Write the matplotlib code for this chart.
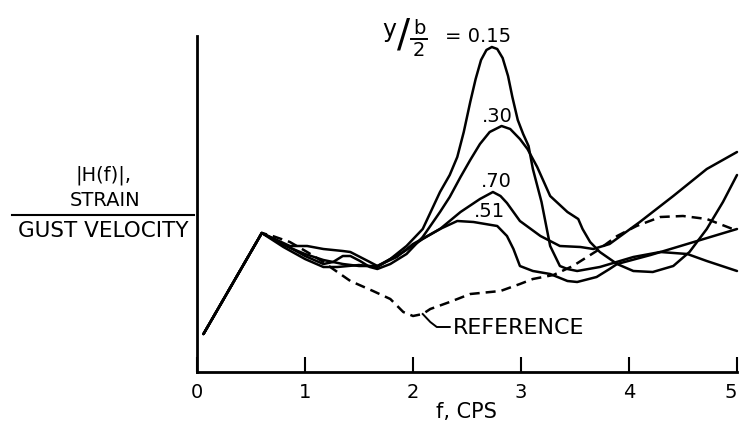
import matplotlib
matplotlib.use("Agg")
import matplotlib.pyplot as plt
from matplotlib.lines import Line2D

# frequency f (cps) and |H(f)| (arbitrary units)
ref_f = [0.06, 0.60, 0.70, 0.86, 1.02, 1.17, 1.26, 1.42, 1.63, 1.79, 1.91, 2.00, 2.09,
         2.16, 2.34, 2.53, 2.81, 2.99, 3.11, 3.30, 3.48, 3.70, 3.89, 4.07, 4.29, 4.50,
         4.72, 4.96]
ref_y = [38, 139, 136, 130, 120, 110, 103, 91, 81, 73, 60, 56, 58,
         63, 70, 78, 81, 88, 93, 97, 106, 121, 136, 146, 155, 156,
         153, 143]

s15_f = [0.06, 0.60, 0.80, 1.00, 1.17, 1.30, 1.50, 1.67, 1.79, 1.94, 2.09, 2.25, 2.34,
         2.41, 2.47, 2.53, 2.58, 2.63, 2.68, 2.73, 2.78, 2.83, 2.88, 2.92, 2.97, 3.02,
         3.07, 3.11, 3.19, 3.27, 3.36, 3.43, 3.52, 3.73, 4.04, 4.29, 4.54, 4.72, 5.00]
s15_y = [38, 139, 125, 113, 105, 105, 107, 105, 113, 126, 143, 180, 197,
         215, 240, 270, 293, 312, 322, 325, 323, 314, 296, 275, 252, 238,
         226, 203, 170, 126, 106, 103, 101, 105, 115, 120, 118, 111, 101]

s30_f = [0.06, 0.60, 0.80, 1.00, 1.17, 1.26, 1.35, 1.42, 1.51, 1.60, 1.67, 1.79, 1.94,
         2.09, 2.25, 2.34, 2.44, 2.53, 2.62, 2.71, 2.82, 2.90, 2.99, 3.06, 3.15, 3.27,
         3.43, 3.53, 3.57, 3.64, 3.73, 3.89, 4.04, 4.22, 4.41, 4.56, 4.72, 4.87, 5.00]
s30_y = [38, 139, 128, 116, 108, 110, 116, 116, 111, 105, 103, 108, 118,
         135, 160, 175, 195, 212, 228, 240, 246, 243, 233, 223, 205, 176,
         160, 153, 143, 130, 120, 108, 101, 100, 106, 120, 143, 170, 197]

s70_f = [0.06, 0.60, 0.80, 1.00, 1.17, 1.35, 1.50, 1.67, 1.85, 2.00, 2.25, 2.44, 2.62,
         2.74, 2.81, 2.87, 2.99, 3.18, 3.36, 3.55, 3.67, 3.82, 4.10, 4.41, 4.72, 5.00]
s70_y = [38, 139, 127, 118, 112, 108, 106, 106, 115, 128, 143, 160, 173,
         180, 176, 169, 151, 136, 126, 125, 123, 128, 150, 176, 203, 220]

s51_f = [0.06, 0.60, 0.86, 1.02, 1.17, 1.35, 1.42, 1.51, 1.60, 1.67, 1.91, 2.09, 2.25,
         2.41, 2.56, 2.78, 2.87, 2.93, 2.99, 3.11, 3.27, 3.43, 3.52, 3.70, 3.82, 3.89,
         4.20, 4.60, 5.00]
s51_y = [38, 139, 126, 126, 123, 121, 120, 115, 110, 106, 120, 133, 143,
         151, 150, 146, 136, 123, 106, 101, 98, 91, 90, 95, 103, 108,
         117, 130, 143]

xticks = [0, 1, 2, 3, 4, 5]
xticklabels = ["0", "1", "2", "3", "4", "5"]

W, H = 740, 427
fig = plt.figure(figsize=(W / 100, H / 100), dpi=100)
ax = fig.add_axes([197 / W, 1 - 373 / H, 540 / W, 336 / H])

lw = 1.8
for xs, ys in [(s15_f, s15_y), (s30_f, s30_y), (s70_f, s70_y), (s51_f, s51_y)]:
    ax.plot(xs, ys, color="black", lw=lw, clip_on=False, solid_capstyle="round")
ax.plot(ref_f, ref_y, color="black", lw=lw, ls=(0, (4, 2.4)), clip_on=False)

ax.set_xlim(0, 5)
ax.set_ylim(0, 336)
ax.spines["top"].set_visible(False)
ax.spines["right"].set_visible(False)
ax.spines["left"].set_linewidth(2)
ax.spines["bottom"].set_linewidth(2)
ax.set_yticks([])
ax.set_xticks(xticks)
ax.set_xticklabels(xticklabels, fontsize=14)
ax.get_xticklabels()[-1].set_ha("right")
ax.tick_params(axis="x", direction="in", length=11, width=1.5, pad=7)

# curve labels
ax.text(2.78, 257, ".30", fontsize=14, ha="center", va="center")
ax.text(2.77, 191, ".70", fontsize=14, ha="center", va="center")
ax.text(2.71, 161, ".51", fontsize=14, ha="center", va="center")

# reference leader
ax.plot([2.09, 2.16, 2.22, 2.34], [58, 50, 45, 45], color="black", lw=1.4, clip_on=False)
ax.text(2.37, 45, "REFERENCE", fontsize=16, ha="left", va="center")

def ftext(x, y, s, **kw):
    fig.text(x / W, 1 - y / H, s, **kw)

# y/(b/2) = 0.15
ftext(389, 30, "y", fontsize=17, ha="center", va="center")
ftext(404, 36, "/", fontsize=28, ha="center", va="center")
ftext(419, 28, "b", fontsize=14, ha="center", va="center")
fig.add_artist(Line2D([411 / W, 427 / W], [1 - 40 / H, 1 - 40 / H], color="black", lw=1.4))
ftext(419, 50, "2", fontsize=14, ha="center", va="center")
ftext(478, 36, "= 0.15", fontsize=14, ha="center", va="center")

# y label as fraction
ftext(104, 175, "|H(f)|,", fontsize=14, ha="center", va="center")
ftext(105, 200, "STRAIN", fontsize=14, ha="center", va="center")
fig.add_artist(Line2D([12 / W, 194 / W], [1 - 216 / H, 1 - 216 / H], color="black", lw=1.5))
ftext(103, 231, "GUST VELOCITY", fontsize=15.5, ha="center", va="center")

ftext(466, 412, "f, CPS", fontsize=15, ha="center", va="center")

fig.savefig("out.png", dpi=100)
